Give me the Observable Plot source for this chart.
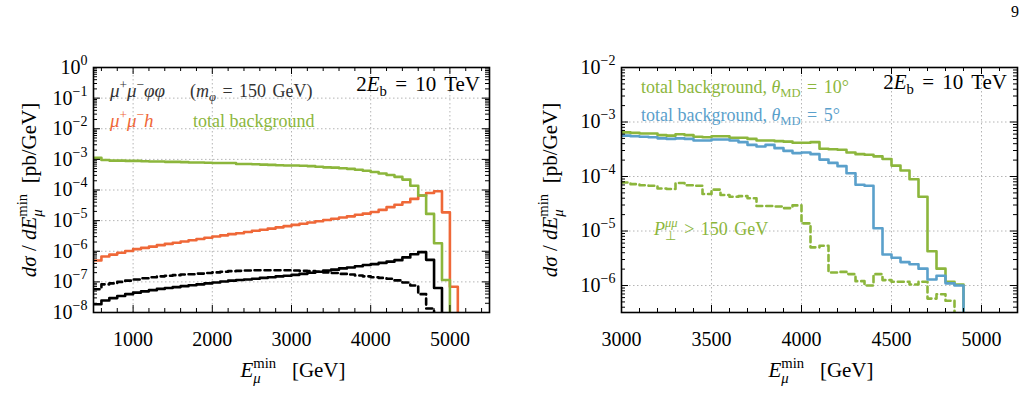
<!DOCTYPE html>
<html><head><meta charset="utf-8">
<script src="https://cdn.jsdelivr.net/npm/d3@7"></script>
<script src="https://cdn.jsdelivr.net/npm/@observablehq/plot@0.6"></script>
<style>
body{margin:0;background:#fff;}
#wrap{position:relative;width:1027px;height:413px;overflow:hidden;background:#fff;font-family:"Liberation Serif",serif;}
.panel{position:absolute;top:0;}
#pageno{position:absolute;left:1011px;top:3px;font-size:16px;}
</style></head><body>
<div id="wrap"><div id="pageno">9</div><div id="left" class="panel" style="left:0"></div><div id="right" class="panel" style="left:510px"></div></div>
<script>
// ---------------- DATA (log10 of dσ/dE in pb/GeV) ----------------
// Left panel: 100 GeV bins starting at 500 GeV
const leftBinWidth = 100;
const leftEdges = d3.range(500, 5100, 100);
const leftBackgroundLog = [-2.95,-3.02,-3.04,-3.04,-3.05,-3.05,-3.06,-3.07,-3.07,-3.08,-3.08,-3.09,-3.10,-3.10,-3.11,-3.12,-3.12,-3.12,-3.15,-3.15,-3.16,-3.17,-3.18,-3.19,-3.20,-3.20,-3.21,-3.22,-3.24,-3.26,-3.27,-3.29,-3.31,-3.34,-3.37,-3.41,-3.46,-3.51,-3.57,-3.66,-3.86,-4.18,-4.78,-5.74,-6.94];
const leftHiggsLog = [-6.30,-6.17,-6.11,-6.05,-5.99,-5.93,-5.89,-5.85,-5.80,-5.76,-5.72,-5.68,-5.64,-5.60,-5.56,-5.52,-5.48,-5.44,-5.41,-5.37,-5.33,-5.30,-5.26,-5.22,-5.18,-5.14,-5.10,-5.06,-5.02,-4.98,-4.94,-4.90,-4.86,-4.81,-4.77,-4.72,-4.65,-4.56,-4.48,-4.40,-4.29,-4.18,-4.10,-4.04,-4.73,-7.16];
const leftPhiPhiSolidLog = [-7.73,-7.61,-7.53,-7.46,-7.40,-7.35,-7.31,-7.27,-7.23,-7.20,-7.17,-7.14,-7.11,-7.08,-7.05,-7.02,-6.99,-6.96,-6.94,-6.92,-6.90,-6.87,-6.85,-6.82,-6.80,-6.77,-6.74,-6.70,-6.67,-6.63,-6.60,-6.56,-6.53,-6.49,-6.45,-6.42,-6.38,-6.34,-6.29,-6.20,-6.10,-6.03,-6.28,-7.20];
const leftPhiPhiDashedLog = [-7.24,-7.08,-7.05,-7.00,-6.96,-6.92,-6.88,-6.85,-6.82,-6.80,-6.78,-6.76,-6.75,-6.73,-6.71,-6.69,-6.67,-6.65,-6.64,-6.63,-6.62,-6.62,-6.62,-6.62,-6.62,-6.63,-6.64,-6.65,-6.67,-6.69,-6.71,-6.74,-6.76,-6.79,-6.82,-6.85,-6.87,-6.90,-6.95,-7.02,-7.12,-7.40,-7.87];

// Right panel: 50 GeV bins starting at 3000 GeV
const rightBinWidth = 50;
const rightEdges = d3.range(3000, 4900, 50);
const rightBg10Log = [-3.19,-3.20,-3.21,-3.21,-3.24,-3.25,-3.225,-3.24,-3.27,-3.28,-3.26,-3.26,-3.29,-3.29,-3.31,-3.34,-3.34,-3.35,-3.36,-3.38,-3.38,-3.37,-3.49,-3.50,-3.51,-3.56,-3.59,-3.60,-3.63,-3.68,-3.80,-3.89,-4.05,-4.37,-5.37,-5.69,-5.93,-5.98];
const rightBg5Log = [-3.25,-3.26,-3.27,-3.28,-3.30,-3.31,-3.30,-3.31,-3.34,-3.34,-3.32,-3.32,-3.34,-3.37,-3.42,-3.45,-3.42,-3.48,-3.53,-3.57,-3.56,-3.59,-3.69,-3.75,-3.81,-3.94,-4.15,-4.17,-4.95,-5.43,-5.49,-5.57,-5.61,-5.69,-5.89,-5.82,-5.96,-6.00];
const rightPtCutLog = [-4.11,-4.14,-4.16,-4.17,-4.22,-4.23,-4.12,-4.16,-4.17,-4.32,-4.24,-4.34,-4.37,-4.36,-4.40,-4.54,-4.54,-4.55,-4.58,-4.53,-4.86,-5.30,-5.27,-5.76,-5.75,-5.79,-5.92,-6.00,-5.79,-5.90,-5.93,-5.93,-5.98,-5.93,-6.24,-6.16,-6.28];

// Axis ticks
const leftXMajor = [1000, 2000, 3000, 4000, 5000];
const leftXMinor = d3.range(600, 5500, 200).filter(v => !leftXMajor.includes(v));
const leftYExp = [-8,-7,-6,-5,-4,-3,-2,-1,0];
const rightXMajor = [3000, 3500, 4000, 4500, 5000];
const rightXMinor = d3.range(3100, 5200, 100).filter(v => !rightXMajor.includes(v));
const rightYExp = [-6,-5,-4,-3,-2];

// ---------------- STYLE ----------------
const FONT = `"Liberation Serif", serif`;
const GREEN = "#8cb63c", ORANGE = "#ef6838", BLUE = "#5aa0cb", BLACK = "#000";

function stepData(edges, logs, width) {
  const pts = logs.map((v, i) => ({x: edges[i], y: 10 ** v}));
  const end = edges[logs.length - 1] + width;
  pts.push({x: end, y: 10 ** logs[logs.length - 1]});
  pts.push({x: end, y: 1e-14});
  return pts;
}
function minorLog(exps, lo, hi) {
  const out = [];
  for (let e = exps[0] - 1; e <= exps[exps.length - 1]; e++)
    for (let k = 2; k <= 9; k++) { const v = k * 10 ** e; if (v > lo && v < hi) out.push(v); }
  return out;
}
const fmtPow = d => "10^" + String(Math.round(Math.log10(d))).replace("-", "\u2212");

function tickMarks(xMaj, xMin, yMaj, yMin, FW, FH) {
  const s = {stroke: "#000", strokeWidth: 1};
  return [
    Plot.tickX(xMaj, {...s, insetTop: FH - 7}), Plot.tickX(xMaj, {...s, insetBottom: FH - 7}),
    Plot.tickX(xMin, {...s, insetTop: FH - 4}), Plot.tickX(xMin, {...s, insetBottom: FH - 4}),
    Plot.tickY(yMaj, {...s, insetRight: FW - 7}), Plot.tickY(yMaj, {...s, insetLeft: FW - 7}),
    Plot.tickY(yMin, {...s, insetRight: FW - 4}), Plot.tickY(yMin, {...s, insetLeft: FW - 4})
  ];
}

function supLabels(svg) {
  d3.select(svg).selectAll("text").each(function () {
    const m = this.textContent.match(/^10\^(\u2212?\d+)$/);
    if (!m) return;
    const sel = d3.select(this);
    sel.text(null);
    sel.append("tspan").text("10");
    sel.append("tspan").attr("dy", -9).attr("font-size", 14).text(m[1]);
  });
}

function rich(svg, o, segs) {
  const sz = o.size;
  const t = d3.select(svg).append("text")
    .attr("x", o.x).attr("y", o.y).attr("text-anchor", o.anchor || "start")
    .attr("fill", o.color || "#000").attr("font-size", sz).attr("font-family", FONT)
    .style("white-space", "pre");
  if (o.rotate) t.attr("transform", `rotate(-90 ${o.x} ${o.y})`);
  let shift = 0, pendingDx = 0;
  function add(text, {italic = false, up = 0, scale = 1, dx = 0, ws = 0} = {}) {
    const sp = t.append("tspan").text(text).attr("font-size", sz * scale);
    if (italic) sp.attr("font-style", "italic");
    if (ws) sp.style("word-spacing", ws + "px");
    const dy = -(up - shift);
    if (dy) sp.attr("dy", dy);
    const tdx = dx + pendingDx;
    if (tdx) sp.attr("dx", tdx);
    pendingDx = 0; shift = up;
    return sp;
  }
  for (const s of segs) {
    if (typeof s === "string") add(s);
    else if (s.s) add(s.s, {ws: s.ws || 0});
    else if (s.i) add(s.i, {italic: true});
    else if (s.sup) add(s.sup, {up: sz * 0.42, scale: 0.7, italic: !!s.it});
    else if (s.sub) add(s.sub, {up: -sz * 0.22, scale: 0.7, italic: !!s.it});
    else if (s.supsub) {
      const a = add(s.supsub[0], {up: sz * 0.42, scale: 0.7, italic: !!s.itSup});
      const wa = a.node().getComputedTextLength();
      const b = add(s.supsub[1], {up: -sz * 0.27, scale: 0.7, italic: !!s.itSub, dx: -wa});
      const wb = b.node().getComputedTextLength();
      if (wa > wb) pendingDx = wa - wb;
    }
  }
  return t;
}

const gridStyle = {stroke: "#b5b5b5", strokeWidth: 1, strokeDasharray: "1.5,2.5"};

// ---------------- LEFT PANEL ----------------
{
  const W = 510, H = 400, mL = 93, mR = 21, mT = 67, mB = 88;
  const FW = W - mL - mR, FH = H - mT - mB;
  const yMaj = leftYExp.map(e => 10 ** e);
  const yMin = minorLog(leftYExp, 1e-8, 1);
  const svg = Plot.plot({
    width: W, height: H, marginLeft: mL, marginRight: mR, marginTop: mT, marginBottom: mB,
    style: {fontFamily: FONT, fontSize: "20px", color: "#000", background: "transparent", overflow: "visible"},
    x: {type: "linear", domain: [500, 5500], ticks: leftXMajor, tickSize: 0, tickPadding: 19, tickFormat: d => String(d), label: null},
    y: {type: "log", domain: [1e-8, 1], ticks: yMaj, tickSize: 0, tickPadding: 6, tickFormat: fmtPow, label: null},
    marks: [
      Plot.ruleY(yMaj, gridStyle),
      Plot.ruleX(leftXMajor, gridStyle),
      Plot.line(stepData(leftEdges, leftPhiPhiDashedLog, leftBinWidth), {x: "x", y: "y", curve: "step-after", stroke: BLACK, strokeWidth: 2.6, strokeDasharray: "6,4", clip: true}),
      Plot.line(stepData(leftEdges, leftPhiPhiSolidLog, leftBinWidth), {x: "x", y: "y", curve: "step-after", stroke: BLACK, strokeWidth: 2.6, clip: true}),
      Plot.line(stepData(leftEdges, leftHiggsLog, leftBinWidth), {x: "x", y: "y", curve: "step-after", stroke: ORANGE, strokeWidth: 2.6, clip: true}),
      Plot.line(stepData(leftEdges, leftBackgroundLog, leftBinWidth), {x: "x", y: "y", curve: "step-after", stroke: GREEN, strokeWidth: 2.6, clip: true}),
      ...tickMarks(leftXMajor, leftXMinor, yMaj, yMin, FW, FH),
      Plot.frame({stroke: "#000", strokeWidth: 1.6})
    ]
  });
  document.getElementById("left").appendChild(svg);
  supLabels(svg);
  rich(svg, {x: 110, y: 97, size: 19, color: "#333"}, [{i: "μ"}, {sup: "+"}, {i: "μ"}, {sup: "\u2212"}, {i: "φφ"}]);
  rich(svg, {x: 190, y: 97, size: 18, color: "#333"}, ["(", {i: "m"}, {sub: "φ", it: true}, {s: " = 150 GeV)", ws: 2}]);
  rich(svg, {x: 480, y: 91, size: 21, anchor: "end"}, ["2", {i: "E"}, {sub: "b"}, {s: " = 10 TeV", ws: 3}]);
  rich(svg, {x: 110, y: 127, size: 19, color: ORANGE}, [{i: "μ"}, {sup: "+"}, {i: "μ"}, {sup: "\u2212"}, {i: "h"}]);
  rich(svg, {x: 193, y: 127, size: 18, color: GREEN}, ["total background"]);
  rich(svg, {x: 293, y: 377, size: 21, anchor: "middle"}, [{i: "E"}, {supsub: ["min", "μ"], itSub: true}, "   [GeV]"]);
  rich(svg, {x: 36, y: 190, size: 21, anchor: "middle", rotate: true}, [{i: "dσ"}, " / ", {i: "dE"}, {supsub: ["min", "μ"], itSub: true}, "  [pb/GeV]"]);
}

// ---------------- RIGHT PANEL ----------------
{
  const W = 517, H = 400, mL = 111, mR = 10, mT = 67, mB = 88;
  const FW = W - mL - mR, FH = H - mT - mB;
  const yLo = 3.2e-7;
  const yMaj = rightYExp.map(e => 10 ** e);
  const yMin = minorLog(rightYExp, yLo, 1e-2);
  const svg = Plot.plot({
    width: W, height: H, marginLeft: mL, marginRight: mR, marginTop: mT, marginBottom: mB,
    style: {fontFamily: FONT, fontSize: "20px", color: "#000", background: "transparent", overflow: "visible"},
    x: {type: "linear", domain: [3000, 5200], ticks: rightXMajor, tickSize: 0, tickPadding: 19, tickFormat: d => String(d), label: null},
    y: {type: "log", domain: [yLo, 1e-2], ticks: yMaj, tickSize: 0, tickPadding: 6, tickFormat: fmtPow, label: null},
    marks: [
      Plot.ruleY(yMaj, gridStyle),
      Plot.ruleX(rightXMajor, gridStyle),
      Plot.line(stepData(rightEdges, rightPtCutLog, rightBinWidth), {x: "x", y: "y", curve: "step-after", stroke: GREEN, strokeWidth: 2.6, strokeDasharray: "6,4", clip: true}),
      Plot.line(stepData(rightEdges, rightBg10Log, rightBinWidth), {x: "x", y: "y", curve: "step-after", stroke: GREEN, strokeWidth: 2.6, clip: true}),
      Plot.line(stepData(rightEdges, rightBg5Log, rightBinWidth), {x: "x", y: "y", curve: "step-after", stroke: BLUE, strokeWidth: 2.6, clip: true}),
      ...tickMarks(rightXMajor, rightXMinor, yMaj, yMin, FW, FH),
      Plot.frame({stroke: "#000", strokeWidth: 1.6})
    ]
  });
  document.getElementById("right").appendChild(svg);
  supLabels(svg);
  rich(svg, {x: 131, y: 93, size: 18, color: GREEN}, ["total background, ", {i: "θ"}, {sub: "MD"}, {s: " = 10°", ws: 2}]);
  rich(svg, {x: 131, y: 121, size: 18, color: BLUE}, ["total background, ", {i: "θ"}, {sub: "MD"}, {s: " = 5°", ws: 2}]);
  rich(svg, {x: 497, y: 89, size: 21, anchor: "end"}, ["2", {i: "E"}, {sub: "b"}, {s: " = 10 TeV", ws: 3}]);
  rich(svg, {x: 144, y: 235, size: 18, color: GREEN}, [{i: "P"}, {supsub: ["μμ", "\u22A5"], itSup: true}, {s: " > 150 GeV", ws: 2}]);
  rich(svg, {x: 311, y: 377, size: 21, anchor: "middle"}, [{i: "E"}, {supsub: ["min", "μ"], itSub: true}, "   [GeV]"]);
  rich(svg, {x: 47, y: 190, size: 21, anchor: "middle", rotate: true}, [{i: "dσ"}, " / ", {i: "dE"}, {supsub: ["min", "μ"], itSub: true}, "  [pb/GeV]"]);
}
</script>
</body></html>
